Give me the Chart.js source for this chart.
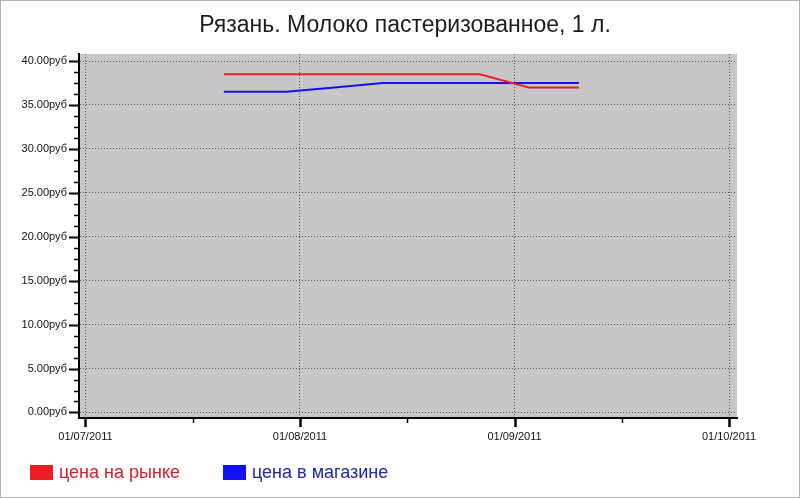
<!DOCTYPE html>
<html lang="ru">
<head>
    <meta charset="UTF-8">
    <title>Рязань. Молоко</title>
    <style>
        body { margin: 0; background: #fff; }
        .frame { position: relative; width: 798px; height: 496px; border: 1px solid #b4b4b4; overflow: hidden; }
        #chart { position: absolute; left: -1px; top: -1px; }
        .title { position: absolute; left: 0; width: 808px; top: 9px; text-align: center; font: 23px "Liberation Sans", Arial, sans-serif; color: #1c1c1c; line-height: 28px; }
        .legend { position: absolute; top: 461px; font: 18px "Liberation Sans", Arial, sans-serif; line-height: 20px; }
        .legend span.box { display: inline-block; width: 23px; height: 15px; vertical-align: -2px; margin-right: 6px; }
    </style>
</head>
<body>
    <div class="frame">
        <canvas id="chart" width="800" height="498"></canvas>
        <div class="title">Рязань. Молоко пастеризованное, 1 л.</div>
        <div class="legend" style="left:29px; color:#d0202c"><span class="box" style="background:#ee1c24"></span>цена на рынке</div>
        <div class="legend" style="left:222px; color:#2424a8"><span class="box" style="background:#1010f0"></span>цена в магазине</div>
    </div>

    <script src="https://cdn.jsdelivr.net/npm/chart.js/dist/chart.umd.min.js"></script>
    <script>
        // data =====================================
        const dates = ['21/07/2011', '30/07/2011', '06/08/2011', '13/08/2011', '20/08/2011', '27/08/2011', '03/09/2011', '10/09/2011']
        const marketPrice = [38.5, 38.5, 38.5, 38.5, 38.5, 38.5, 37, 37]
        const storePrice = [36.5, 36.5, 37, 37.5, 37.5, 37.5, 37.5, 37.5]
        const monthLabels = ['01/07/2011', '01/08/2011', '01/09/2011', '01/10/2011']

        // months are drawn equal width, so x = month index + fraction of month
        const toX = (s) => {
            const [d, m, y] = s.split('/').map(Number)
            const days = new Date(y, m, 0).getDate()
            return (m - 7) + (d - 1) / days
        }
        const points = (vals) => vals.map((v, i) => ({ x: toX(dates[i]), y: v }))

        const plotBg = {
            id: 'plotBg',
            beforeDraw(chart) {
                const { ctx, chartArea: a } = chart
                ctx.save()
                ctx.fillStyle = '#c8c6c9'
                ctx.fillRect(a.left, a.top, a.right - a.left, a.bottom - a.top)
                ctx.restore()
            }
        }

        // major / minor tick marks outside the axes
        const tickMarks = {
            id: 'tickMarks',
            afterDraw(chart) {
                const { ctx, chartArea: a, scales: { x, y } } = chart
                ctx.save()
                ctx.strokeStyle = '#000'
                y.ticks.forEach(t => {
                    const py = Math.round(y.getPixelForValue(t.value)) + 0.5
                    const major = t.value % 5 === 0
                    ctx.lineWidth = major ? 2 : 1.5
                    ctx.beginPath()
                    ctx.moveTo(a.left - (major ? 10 : 5), py)
                    ctx.lineTo(a.left, py)
                    ctx.stroke()
                })
                x.ticks.forEach(t => {
                    const px = Math.round(x.getPixelForValue(t.value)) + 0.5
                    const major = Number.isInteger(t.value)
                    ctx.lineWidth = major ? 2.5 : 1.5
                    ctx.beginPath()
                    ctx.moveTo(px, a.bottom)
                    ctx.lineTo(px, a.bottom + (major ? 9 : 5))
                    ctx.stroke()
                })
                ctx.restore()
            }
        }

        const gridColor = (major) => major ? '#55555a' : 'rgba(0,0,0,0)'

        const chart = new Chart(document.getElementById('chart'), {
            type: 'line',
            data: {
                datasets: [
                    {
                        label: 'цена на рынке',
                        data: points(marketPrice),
                        borderColor: '#e8202a',
                        borderWidth: 2,
                        pointRadius: 0,
                        tension: 0,
                    },
                    {
                        label: 'цена в магазине',
                        data: points(storePrice),
                        borderColor: '#1414e6',
                        borderWidth: 2,
                        pointRadius: 0,
                        tension: 0,
                    },
                ],
            },
            options: {
                responsive: false,
                animation: false,
                layout: { padding: { top: 54, right: 63, left: 0, bottom: 50 } },
                plugins: {
                    legend: { display: false },
                    title: { display: false },
                    tooltip: { enabled: false },
                },
                scales: {
                    x: {
                        type: 'linear',
                        min: -0.03,
                        max: 3.037,
                        afterFit: (s) => { s.height = 30 },
                        afterBuildTicks: (s) => {
                            s.ticks = [0, 0.5, 1, 1.5, 2, 2.5, 3].map(v => ({ value: v }))
                        },
                        ticks: {
                            autoSkip: false,
                            maxRotation: 0,
                            padding: 12,
                            color: '#111',
                            font: { family: '"Liberation Sans", Arial, sans-serif', size: 11 },
                            callback: (v) => Number.isInteger(v) ? monthLabels[v] : '',
                        },
                        grid: {
                            drawTicks: false,
                            color: (c) => gridColor(c.tick && Number.isInteger(c.tick.value)),
                            lineWidth: 1,
                        },
                        border: { color: '#000', width: 2, dash: [1, 2] },
                    },
                    y: {
                        min: -0.63,
                        max: 40.8,
                        afterFit: (s) => { s.width = 79 },
                        afterBuildTicks: (s) => {
                            const t = []
                            for (let v = 0; v <= 40; v += 1.25) t.push({ value: v })
                            s.ticks = t
                        },
                        ticks: {
                            autoSkip: false,
                            padding: 12,
                            color: '#111',
                            font: { family: '"Liberation Sans", Arial, sans-serif', size: 11 },
                            callback: (v) => v % 5 === 0 ? v.toFixed(2) + 'руб' : '',
                        },
                        grid: {
                            drawTicks: false,
                            color: (c) => gridColor(c.tick && c.tick.value % 5 === 0),
                            lineWidth: 1,
                        },
                        border: { color: '#000', width: 2, dash: [1, 2] },
                    },
                },
            },
            plugins: [plotBg, tickMarks],
        })
    </script>
</body>
</html>
